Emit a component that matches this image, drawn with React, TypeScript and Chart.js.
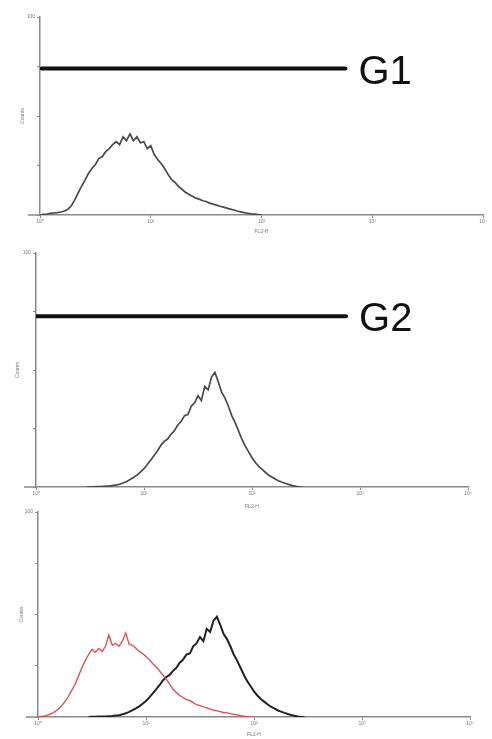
import React, { useEffect, useRef } from "react";
import { Chart, registerables } from "chart.js";

Chart.register(...registerables);

// ---------- data ----------
const BIN = 8; // channels per histogram bin (1024-channel log scale, 4 decades)
const xTickChannels = [0, 256, 512, 768, 1024];
const xTickLabels = ["10⁰", "10¹", "10²", "10³", "10⁴"];
const yTicks = [0, 25, 50, 75, 100];
const yTopLabel = "100";
const xTitle = "FL2-H";
const yTitle = "Counts";

// G1 population (panel 1)
const g1Start = 0;
const g1Counts = [
  0, 0.3, 0.5, 0.8, 1.0, 1.2, 1.5, 2.0, 2.8, 4.5, 7.5, 11, 14.5, 17.5, 21, 23.5,
  25.5, 28.5, 29.5, 32, 33.5, 35.5, 37, 35.5, 39.5, 37.5, 41, 37.5, 39.5, 36.5, 37, 33.5,
  35, 30.5, 28, 26, 23.5, 20.5, 18, 16.5, 14.5, 13, 11.5, 10.5, 9.5, 8.5, 8, 7.2,
  6.8, 6, 5.5, 5, 4.4, 4, 3.5, 3, 2.5, 2, 1.6, 1.2, 0.9, 0.6, 0.4, 0.2, 0,
];

// G2 population (panel 2, black curve of panel 3)
const g2Start = 120;
const g2Counts = [
  0, 0.1, 0.1, 0.2, 0.2, 0.3, 0.4, 0.5, 0.7, 0.9, 1.3, 1.8, 2.5, 3.3, 4.2, 5.2,
  6.5, 7.8, 9.6, 11.5, 13.5, 15.5, 17.8, 19.5, 20.5, 22.5, 24, 26.5, 28, 30.5, 31, 34.5,
  36, 39, 37, 43, 41.5, 47, 49, 45, 40.5, 38, 34.5, 30.5, 27.5, 24, 20.5, 17.5,
  15, 12.5, 10.5, 8.8, 7.5, 6.2, 5, 4.2, 3.3, 2.6, 2, 1.5, 1, 0.6, 0.3, 0.1, 0,
];

// red overlay (panel 3)
const redStart = 0;
const redCounts = [
  0, 0.3, 0.6, 1.0, 1.6, 2.6, 3.8, 5.5, 7.5, 10, 13, 16, 20, 24, 27.5, 30.5,
  33, 31.5, 33.5, 32, 34.5, 40, 35, 36, 34.5, 37, 41, 35.5, 35, 33.5, 32, 31,
  29.5, 28, 26, 24.5, 22.5, 20.5, 18.5, 16, 13.5, 12, 10.5, 9.5, 8.5, 8, 7, 6,
  5.5, 5, 4.4, 3.8, 3.3, 3, 2.6, 2.2, 2, 1.6, 1.3, 1, 0.7, 0.4, 0.2, 0,
];

const gateNames = ["G1", "G2"];
const gateLevels = [74, 73];
const gateStarts = [4, 0];
const gateEnds = [706, 735];

// ---------- helpers ----------
const toPoints = (start: number, counts: number[]) =>
  counts.map((c, i) => ({ x: start + i * BIN, y: c }));

const FONT = "'Liberation Sans', Arial, sans-serif";
const AXIS = "#8a8a8a";

const gateLabelPlugin = {
  id: "gateLabel",
  afterDatasetsDraw(chart: any) {
    const ctx = chart.ctx;
    chart.data.datasets.forEach((ds: any, i: number) => {
      if (!ds.gateName) return;
      const meta = chart.getDatasetMeta(i);
      const pt = meta.data[meta.data.length - 1];
      if (!pt) return;
      ctx.save();
      ctx.font = `40px ${FONT}`;
      ctx.fillStyle = "#111";
      ctx.textAlign = "left";
      ctx.textBaseline = "middle";
      ctx.fillText(ds.gateName, pt.x + 13, pt.y + 4);
      ctx.restore();
    });
  },
};

// short extension of the x axis line to the left of the y axis
const axisStubPlugin = {
  id: "axisStub",
  afterDraw(chart: any) {
    const { ctx, chartArea } = chart;
    ctx.save();
    ctx.strokeStyle = AXIS;
    ctx.lineWidth = 1.5;
    ctx.beginPath();
    ctx.moveTo(chartArea.left - 12, chartArea.bottom);
    ctx.lineTo(chartArea.left, chartArea.bottom);
    ctx.stroke();
    ctx.restore();
  },
};

type Panel = {
  top: number;
  height: number;
  padTop: number;
  padRight: number;
  yAxisW: number;
  xAxisH: number;
  xTitlePad: number;
  yTitlePad: number;
  datasets: any[];
};

const gateDataset = (k: number) => ({
  gateName: gateNames[k],
  data: [
    { x: gateStarts[k], y: gateLevels[k] },
    { x: gateEnds[k], y: gateLevels[k] },
  ],
  showLine: true,
  borderColor: "#111",
  borderWidth: 4,
  borderCapStyle: "round",
  pointRadius: 0,
});

const histDataset = (pts: any[], color: string, width: number) => ({
  data: pts,
  showLine: true,
  borderColor: color,
  borderWidth: width,
  pointRadius: 0,
  tension: 0,
});

const panels: Panel[] = [
  {
    top: 0,
    height: 240,
    padTop: 17,
    padRight: 9,
    yAxisW: 40,
    xAxisH: 25,
    xTitlePad: 5,
    yTitlePad: 20,
    datasets: [gateDataset(0), histDataset(toPoints(g1Start, g1Counts), "#4a4a4a", 1.7)],
  },
  {
    top: 240,
    height: 272,
    padTop: 13,
    padRight: 24,
    yAxisW: 36,
    xAxisH: 25,
    xTitlePad: 2,
    yTitlePad: 15,
    datasets: [gateDataset(1), histDataset(toPoints(g2Start, g2Counts), "#4a4a4a", 1.7)],
  },
  {
    top: 505,
    height: 234,
    padTop: 7,
    padRight: 22,
    yAxisW: 38,
    xAxisH: 22,
    xTitlePad: 1,
    yTitlePad: 19,
    datasets: [
      histDataset(toPoints(redStart, redCounts), "#e04848", 1.3),
      histDataset(toPoints(g2Start, g2Counts), "#222", 2),
    ],
  },
];

function makeConfig(p: Panel): any {
  return {
    type: "scatter",
    data: { datasets: p.datasets },
    plugins: [gateLabelPlugin, axisStubPlugin],
    options: {
      animation: false,
      responsive: false,
      maintainAspectRatio: false,
      events: [],
      layout: { padding: { top: p.padTop, right: p.padRight, left: 0, bottom: 0 } },
      plugins: { legend: { display: false }, tooltip: { enabled: false } },
      scales: {
        x: {
          type: "linear",
          min: 0,
          max: 1024,
          afterBuildTicks: (s: any) => {
            s.ticks = xTickChannels.map((v) => ({ value: v }));
          },
          afterFit: (s: any) => {
            s.height = p.xAxisH;
          },
          grid: { drawOnChartArea: false, drawTicks: true, tickLength: 3, color: AXIS, lineWidth: 1 },
          border: { color: AXIS, width: 1.5 },
          ticks: {
            font: { size: 5, family: FONT },
            color: "#777",
            padding: 1,
            maxRotation: 0,
            autoSkip: false,
            callback: (v: number) => {
              const i = xTickChannels.indexOf(v);
              return i >= 0 ? xTickLabels[i] : "";
            },
          },
          title: {
            display: true,
            text: xTitle,
            font: { size: 5, family: FONT },
            color: "#777",
            padding: { top: 0, bottom: p.xTitlePad },
          },
        },
        y: {
          min: 0,
          max: 100,
          afterBuildTicks: (s: any) => {
            s.ticks = yTicks.map((v) => ({ value: v }));
          },
          afterFit: (s: any) => {
            s.width = p.yAxisW;
          },
          grid: { drawOnChartArea: false, drawTicks: true, tickLength: 3, color: AXIS, lineWidth: 1 },
          border: { color: AXIS, width: 1.5 },
          ticks: {
            font: { size: 5, family: FONT },
            color: "#777",
            padding: 2,
            autoSkip: false,
            callback: (v: number) => (v === 100 ? yTopLabel : ""),
          },
          title: {
            display: true,
            text: yTitle,
            font: { size: 5, family: FONT },
            color: "#777",
            padding: { top: p.yTitlePad, bottom: 0 },
          },
        },
      },
    },
  };
}

function HistPanel({ p }: { p: Panel }) {
  const ref = useRef<HTMLCanvasElement | null>(null);
  useEffect(() => {
    if (!ref.current) return;
    const chart = new Chart(ref.current, makeConfig(p));
    return () => chart.destroy();
  }, [p]);
  return (
    <canvas
      ref={ref}
      width={492}
      height={p.height}
      style={{
        position: "absolute",
        left: 0,
        top: p.top,
        width: 492,
        height: p.height,
        filter: "blur(0.5px)",
      }}
    />
  );
}

export default function App() {
  return (
    <div
      style={{
        position: "fixed",
        left: 0,
        top: 0,
        width: 492,
        height: 739,
        background: "#fff",
        overflow: "hidden",
      }}
    >
      {panels.map((p, i) => (
        <HistPanel key={i} p={p} />
      ))}
    </div>
  );
}
